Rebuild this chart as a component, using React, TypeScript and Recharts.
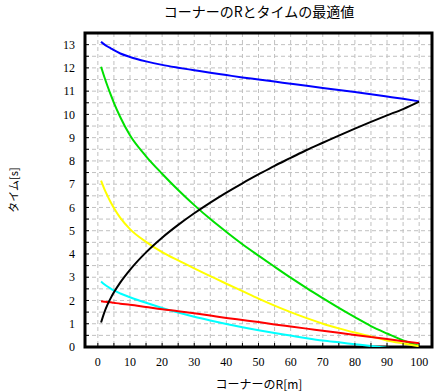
import { CartesianGrid, Line, LineChart, ReferenceArea, XAxis, YAxis } from 'recharts';

// コーナーのR [m]
const radius = [1, 2, 3, 4, 5, 7, 10, 15, 20, 25, 30, 35, 40, 45, 50, 55, 60, 65, 70, 75, 80, 85, 90, 95, 100];

const blueTime = [13.12, 13.01, 12.92, 12.84, 12.76, 12.62, 12.47, 12.28, 12.13, 12.01, 11.9, 11.79, 11.69, 11.59, 11.5, 11.41, 11.32, 11.23, 11.14, 11.05, 10.96, 10.87, 10.77, 10.67, 10.56];
const greenTime = [12.05, 11.62, 11.22, 10.85, 10.5, 9.88, 9.1, 8.2, 7.45, 6.75, 6.1, 5.5, 4.95, 4.42, 3.93, 3.45, 2.98, 2.53, 2.1, 1.68, 1.28, 0.9, 0.58, 0.28, 0.05];
const yellowTime = [7.15, 6.8, 6.5, 6.22, 5.98, 5.55, 5.07, 4.52, 4.08, 3.72, 3.38, 3.05, 2.72, 2.4, 2.08, 1.78, 1.5, 1.24, 1.0, 0.8, 0.62, 0.45, 0.28, 0.15, 0.03];
const blackTime = [1.05, 1.48, 1.82, 2.1, 2.35, 2.78, 3.32, 4.07, 4.7, 5.25, 5.75, 6.21, 6.64, 7.04, 7.42, 7.79, 8.13, 8.47, 8.78, 9.09, 9.39, 9.68, 9.96, 10.23, 10.55];
const redTime = [1.97, 1.95, 1.93, 1.92, 1.9, 1.86, 1.82, 1.72, 1.62, 1.54, 1.45, 1.35, 1.25, 1.16, 1.07, 0.97, 0.88, 0.79, 0.7, 0.61, 0.52, 0.43, 0.34, 0.25, 0.16];
const cyanTime = [2.82, 2.7, 2.6, 2.51, 2.43, 2.3, 2.14, 1.9, 1.68, 1.48, 1.3, 1.14, 0.99, 0.85, 0.72, 0.6, 0.49, 0.38, 0.28, 0.2, 0.12, 0.04, -0.03, -0.1, -0.17];

const xTicks = [0, 5, 10, 15, 20, 25, 30, 35, 40, 45, 50, 55, 60, 65, 70, 75, 80, 85, 90, 95, 100];
const yTicks = [0, 0.5, 1, 1.5, 2, 2.5, 3, 3.5, 4, 4.5, 5, 5.5, 6, 6.5, 7, 7.5, 8, 8.5, 9, 9.5, 10, 10.5, 11, 11.5, 12, 12.5, 13, 13.5];

const data = radius.map((r, i) => ({
  r,
  blue: blueTime[i],
  green: greenTime[i],
  yellow: yellowTime[i],
  black: blackTime[i],
  red: redTime[i],
  cyan: cyanTime[i],
}));

const series = [
  { key: 'blue', color: '#0000ff' },
  { key: 'green', color: '#00e000' },
  { key: 'yellow', color: '#ffff00' },
  { key: 'cyan', color: '#00ffff' },
  { key: 'red', color: '#ff0000' },
  { key: 'black', color: '#000000' },
];

const tickFont = { fontSize: 12, fontFamily: 'Liberation Serif', fill: '#000' };
const jpFont = 'Noto Sans CJK JP';

export default function App() {
  return (
    <div style={{ position: 'absolute', left: 0, top: 0, width: 445, height: 392, background: '#fff' }}>
      <LineChart
        width={445}
        height={392}
        data={data}
        margin={{ top: 33, right: 13, bottom: 0, left: 0 }}
        style={{ fontFamily: 'Liberation Serif' }}
      >
        <CartesianGrid stroke="#c0c0c0" strokeDasharray="4 3" />
        <XAxis
          dataKey="r"
          type="number"
          domain={[-4, 104]}
          ticks={xTicks}
          allowDataOverflow
          height={45}
          axisLine={false}
          tickSize={-4}
          tickMargin={14}
          tickLine={{ stroke: '#000' }}
          tick={tickFont}
          tickFormatter={(v: number) => (v % 10 === 0 ? String(v) : '')}
          interval={0}
        />
        <YAxis
          type="number"
          domain={[0, 13.5]}
          ticks={yTicks}
          allowDataOverflow
          width={85}
          axisLine={false}
          tickSize={-4}
          tickMargin={14}
          tickLine={{ stroke: '#000' }}
          tick={tickFont}
          tickFormatter={(v: number) => (Number.isInteger(v) ? String(v) : '')}
          interval={0}
        />
        {series.map((s) => (
          <Line
            key={s.key}
            dataKey={s.key}
            type="monotone"
            stroke={s.color}
            strokeWidth={2}
            dot={false}
            isAnimationActive={false}
          />
        ))}
        <ReferenceArea x1={-4} x2={104} y1={0} y2={13.5} fill="none" stroke="#000" strokeWidth={3} />
      </LineChart>
      <svg width={445} height={392} style={{ position: 'absolute', left: 0, top: 0, pointerEvents: 'none' }}>
        <text x={259} y={11} textAnchor="middle" dominantBaseline="central" fontSize={14} fontFamily={jpFont} fill="#000">
          コーナーのRとタイムの最適値
        </text>
        <text x={259} y={383} textAnchor="middle" dominantBaseline="central" fontSize={12} fontFamily={jpFont} fill="#000">
          コーナーのR[m]
        </text>
        <text
          x={13}
          y={190}
          transform="rotate(-90 13 190)"
          textAnchor="middle"
          dominantBaseline="central"
          fontSize={11}
          fontFamily={jpFont}
          fill="#000"
        >
          タイム[s]
        </text>
      </svg>
    </div>
  );
}
